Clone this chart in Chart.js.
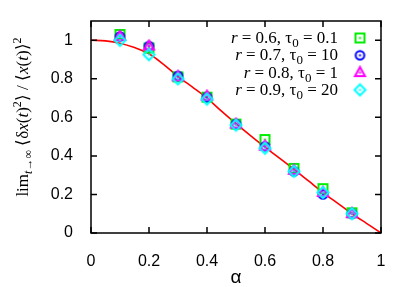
<!DOCTYPE html>
<html><head><meta charset="utf-8">
<script src="https://cdn.jsdelivr.net/npm/chart.js@4/dist/chart.umd.min.js"></script>
<style>html,body{margin:0;padding:0;background:#fff}#w{width:409px;height:287px}</style>
</head><body><div id="w"><canvas id="c" width="409" height="287"></canvas></div>
<script>
const alphas = [0.1,0.2,0.3,0.4,0.5,0.6,0.7,0.8,0.9];
const sqVals  = [1.03,0.96,0.81,0.705,0.565,0.485,0.335,0.23,0.105];
const circVals= [1.02,0.97,0.815,0.705,0.565,0.45,0.32,0.20,0.10];
const triVals = [1.02,0.97,0.81,0.71,0.565,0.45,0.325,0.21,0.10];
const diaVals = [1.00,0.925,0.80,0.695,0.56,0.44,0.32,0.21,0.10];
const curveX = [0,0.05,0.1,0.15,0.2,0.25,0.3,0.35,0.4,0.45,0.5,0.55,0.6,0.65,0.7,0.75,0.8,0.85,0.9,0.95,1.0];
const curveY = [1.0,0.997,0.985,0.962,0.93,0.875,0.812,0.757,0.70,0.632,0.567,0.505,0.445,0.388,0.33,0.27,0.21,0.155,0.10,0.05,0.0];
const xTicks = [0,0.2,0.4,0.6,0.8,1];
const yTicks = [0,0.2,0.4,0.6,0.8,1];
const legendLabels = [['0.6','0.1'],['0.7','10'],['0.8','1'],['0.9','20']];

function marker(kind, color){
  const s=15, c=document.createElement('canvas'); c.width=s; c.height=s;
  const g=c.getContext('2d'); g.strokeStyle=color; g.fillStyle=color; g.lineWidth=2;
  const m=s/2;
  g.beginPath();
  if(kind==='sq'){ g.rect(m-4.5,m-4.5,9,9); }
  else if(kind==='ci'){ g.arc(m,m,4.3,0,Math.PI*2); }
  else if(kind==='tr'){ g.moveTo(m,m-5.5); g.lineTo(m+5,m+3.5); g.lineTo(m-5,m+3.5); g.closePath(); }
  else { g.moveTo(m,m-5.5); g.lineTo(m+5.5,m); g.lineTo(m,m+5.5); g.lineTo(m-5.5,m); g.closePath(); }
  g.stroke();
  g.fillRect(m-1,m-1,2,2);
  return c;
}
const mk = {
  sq: marker('sq','#00ee00'), ci: marker('ci','#0000ff'),
  tr: marker('tr','#ff00ff'), di: marker('di','#00ffff')
};
const pts = v => alphas.map((a,i)=>({x:a,y:v[i]}));

const deco = {
  id:'deco',
  afterDatasetsDraw(chart){
    const ctx=chart.ctx, a=chart.chartArea, xs=chart.scales.x, ys=chart.scales.y;
    ctx.save();
    ctx.strokeStyle='#000'; ctx.lineWidth=1.5;
    ctx.strokeRect(a.left,a.top,a.right-a.left,a.bottom-a.top);
    ctx.beginPath();
    xTicks.forEach(v=>{const p=xs.getPixelForValue(v);
      ctx.moveTo(p,a.bottom); ctx.lineTo(p,a.bottom-6);
      ctx.moveTo(p,a.top); ctx.lineTo(p,a.top+6);});
    yTicks.forEach(v=>{const p=ys.getPixelForValue(v);
      ctx.moveTo(a.left,p); ctx.lineTo(a.left+6,p);
      ctx.moveTo(a.right,p); ctx.lineTo(a.right-6,p);});
    ctx.stroke();
    // legend
    const keys=['sq','ci','tr','di'];
    const serif='"Liberation Serif", serif';
    legendLabels.forEach((lab,i)=>{
      const segs=[{t:'r',f:'italic 17px '+serif,dy:0},{t:' = '+lab[0]+', τ',f:'17px '+serif,dy:0},
                  {t:'0',f:'13px '+serif,dy:4},{t:' = '+lab[1],f:'17px '+serif,dy:0}];
      let w=0; segs.forEach(s=>{ctx.font=s.f; w+=ctx.measureText(s.t).width;});
      let x=338-w; const yb=43+i*17.3;
      ctx.fillStyle='#000'; ctx.textBaseline='alphabetic'; ctx.textAlign='left';
      segs.forEach(s=>{ctx.font=s.f; ctx.fillText(s.t,x,yb+s.dy); x+=ctx.measureText(s.t).width;});
      ctx.drawImage(mk[keys[i]],360-7.5,yb-5-7.5);
    });
    // y title
    ctx.translate(23,117); ctx.rotate(-Math.PI/2);
    const ysegs=[{t:'lim',f:'17px '+serif,dy:0},{t:'t',f:'italic 12px '+serif,dy:4},{t:'→∞',f:'12px '+serif,dy:4},
      {t:' ⟨δ',f:'17px '+serif,dy:0},{t:'x',f:'italic 17px '+serif,dy:0},{t:'(',f:'17px '+serif,dy:0},
      {t:'t',f:'italic 17px '+serif,dy:0},{t:')',f:'17px '+serif,dy:0},{t:'2',f:'12px '+serif,dy:-7},
      {t:'⟩ / ⟨',f:'17px '+serif,dy:0},{t:'x',f:'italic 17px '+serif,dy:0},{t:'(',f:'17px '+serif,dy:0},
      {t:'t',f:'italic 17px '+serif,dy:0},{t:')⟩',f:'17px '+serif,dy:0},{t:'2',f:'12px '+serif,dy:-7}];
    let tw=0; ysegs.forEach(s=>{ctx.font=s.f; tw+=ctx.measureText(s.t).width;});
    let x=-tw/2; ctx.fillStyle='#000';
    ysegs.forEach(s=>{ctx.font=s.f; ctx.fillText(s.t,x,5+s.dy); x+=ctx.measureText(s.t).width;});
    ctx.restore();
    // x title
    ctx.save(); ctx.fillStyle='#000'; ctx.font='19px "Liberation Sans", sans-serif';
    ctx.textAlign='center'; ctx.textBaseline='middle';
    ctx.fillText('α',(a.left+a.right)/2,278);
    ctx.restore();
  }
};

new Chart(document.getElementById('c'),{
  type:'scatter',
  data:{datasets:[
    {type:'line',data:curveX.map((x,i)=>({x,y:curveY[i]})),borderColor:'#ff0000',borderWidth:1.6,pointRadius:0,cubicInterpolationMode:'monotone',order:5},
    {data:pts(sqVals),pointStyle:mk.sq,order:4},
    {data:pts(circVals),pointStyle:mk.ci,order:3},
    {data:pts(triVals),pointStyle:mk.tr,order:2},
    {data:pts(diaVals),pointStyle:mk.di,order:1}
  ]},
  options:{
    responsive:false, animation:false, devicePixelRatio:1,
    layout:{padding:{top:21,right:28,left:0,bottom:0}},
    plugins:{legend:{display:false},tooltip:{enabled:false}},
    scales:{
      x:{type:'linear',min:0,max:1,
        afterBuildTicks:s=>{s.ticks=xTicks.map(v=>({value:v}));},
        afterFit:s=>{s.height=54;},
        grid:{display:false},border:{display:false},
        ticks:{color:'#000',padding:11,font:{family:'"Liberation Sans", sans-serif',size:16},callback:v=>String(+v.toFixed(1))}},
      y:{type:'linear',min:0,max:1.1,
        afterBuildTicks:s=>{s.ticks=yTicks.map(v=>({value:v}));},
        afterFit:s=>{s.width=91;},
        grid:{display:false},border:{display:false},
        ticks:{color:'#000',padding:10,font:{family:'"Liberation Sans", sans-serif',size:16},callback:v=>String(+v.toFixed(1))}}
    }
  },
  plugins:[deco]
});
</script></body></html>
